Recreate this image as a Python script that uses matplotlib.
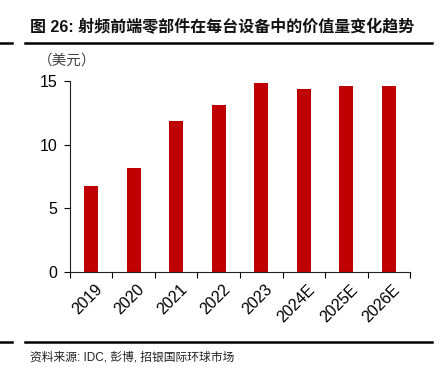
import matplotlib
matplotlib.use('Agg')
import matplotlib.pyplot as plt
from matplotlib.lines import Line2D

plt.rcParams['font.family'] = ['Liberation Sans', 'Noto Sans CJK SC', 'DejaVu Sans']

years = ['2019', '2020', '2021', '2022', '2023', '2024E', '2025E', '2026E']
values = [6.75, 8.15, 11.85, 13.1, 14.85, 14.4, 14.6, 14.6]

fig = plt.figure(figsize=(4.42, 3.78), dpi=100)
ax = fig.add_axes([0.158, 0.280, 0.770, 0.506])

x = range(len(years))
ax.bar(x, values, width=0.33, color='#C00000')

ax.set_xlim(-0.5, len(years) - 0.5)
ax.set_ylim(0, 15)
ax.set_yticks([0, 5, 10, 15])
ax.set_xticks([i - 0.5 for i in range(len(years) + 1)])
ax.set_xticklabels([])
ax.set_xticks([i + 0.08 for i in x], minor=True)
ax.set_xticklabels(years, minor=True, rotation=45, ha='right', va='top',
                   rotation_mode='anchor', fontsize=11.5)
ax.tick_params(axis='x', which='minor', length=0, pad=7)
ax.tick_params(axis='x', which='major', length=4, direction='out', width=0.8)
ax.tick_params(axis='y', length=4, direction='out', width=0.8, labelsize=11.5, pad=5)

for side in ['top', 'right']:
    ax.spines[side].set_visible(False)
for side in ['left', 'bottom']:
    ax.spines[side].set_linewidth(0.8)
    ax.spines[side].set_color('#222222')

fig.text(0.085, 0.840, '（美元）', fontsize=10.5, family=['Noto Sans CJK SC'],
         color='#444444', va='center')

# title and frame lines
fig.text(0.068, 0.928, '图 26: 射频前端零部件在每台设备中的价值量变化趋势',
         fontsize=11.5, fontweight='bold', family=['Liberation Sans', 'Noto Sans CJK SC'],
         va='center', color='#111111')
fig.add_artist(Line2D([0.057, 0.978], [0.886, 0.886], color='black', lw=1.8))
fig.add_artist(Line2D([0.0, 0.027], [0.886, 0.886], color='black', lw=1.8))
fig.add_artist(Line2D([0.057, 0.978], [0.095, 0.095], color='black', lw=1.8))
fig.add_artist(Line2D([0.0, 0.027], [0.095, 0.095], color='black', lw=1.8))

fig.text(0.068, 0.055, '资料来源: IDC, 彭博, 招银国际环球市场', fontsize=8.5,
         family=['Liberation Sans', 'Noto Sans CJK SC'], va='center', color='#222222')

fig.savefig('out.png', dpi=100)
